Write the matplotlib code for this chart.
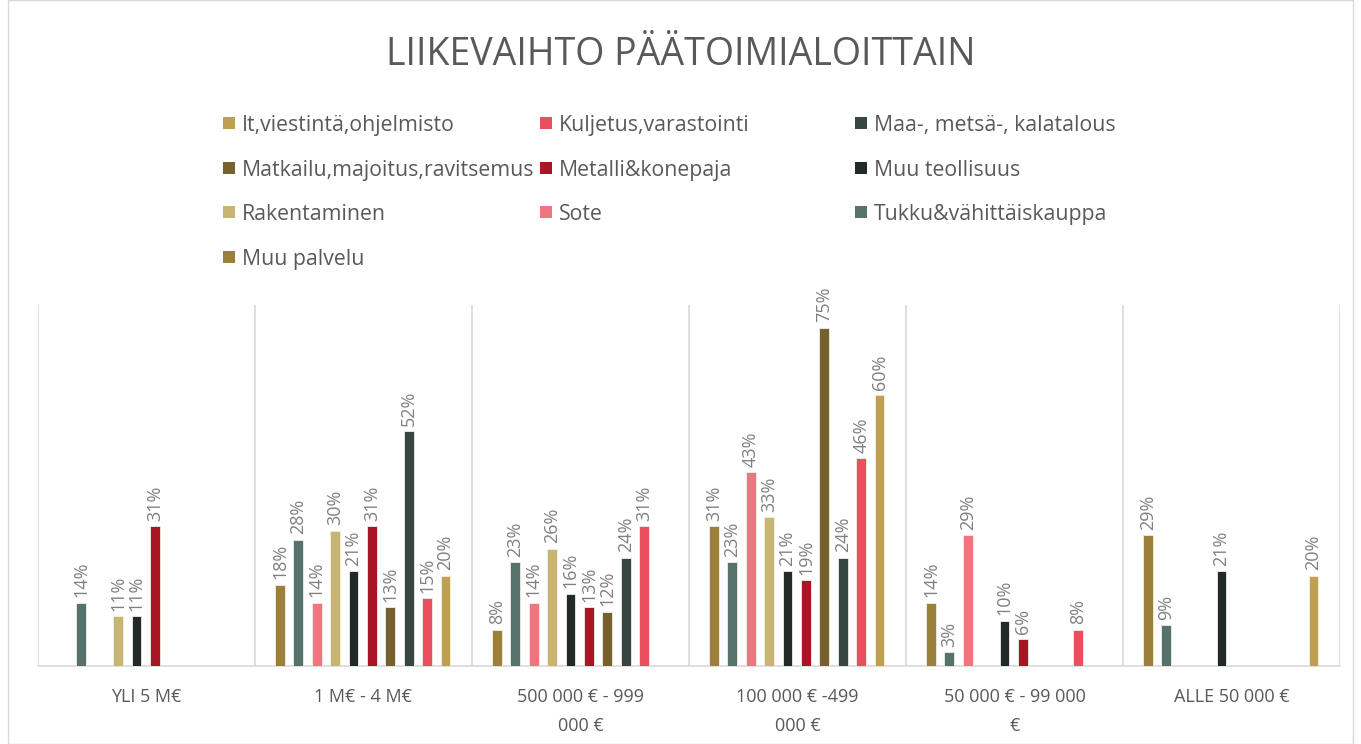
import numpy as np
import matplotlib
matplotlib.use('Agg')
import matplotlib.pyplot as plt

plt.rcParams['font.family'] = ['Open Sans', 'DejaVu Sans']

categories = ['YLI 5 M€', '1 M€ - 4 M€', '500 000 € - 999\n000 €',
              '100 000 € -499\n000 €', '50 000 € - 99 000\n€', 'ALLE 50 000 €']

colors = {'It,viestintä,ohjelmisto': '#BF9F50',
          'Kuljetus,varastointi': '#E85060',
          'Maa-, metsä-, kalatalous': '#374643',
          'Matkailu,majoitus,ravitsemus': '#75602E',
          'Metalli&konepaja': '#A81525',
          'Muu teollisuus': '#212A28',
          'Rakentaminen': '#C9B572',
          'Sote': '#EF7580',
          'Tukku&vähittäiskauppa': '#55726C',
          'Muu palvelu': '#9A803A'}
# legend, row by row
legend_names = ['It,viestintä,ohjelmisto', 'Kuljetus,varastointi', 'Maa-, metsä-, kalatalous',
                'Matkailu,majoitus,ravitsemus', 'Metalli&konepaja', 'Muu teollisuus',
                'Rakentaminen', 'Sote', 'Tukku&vähittäiskauppa', 'Muu palvelu']

nan = np.nan
# values in %, one list per series (order of categories)
muu_palvelu = [nan, 18, 8, 31, 14, 29]
tukku = [14, 28, 23, 23, 3, 9]
sote = [nan, 14, 14, 43, 29, nan]
rakentaminen = [11, 30, 26, 33, nan, nan]
muu_teollisuus = [11, 21, 16, 21, 10, 21]
metalli = [31, 31, 13, 19, 6, nan]
matkailu = [nan, 13, 12, 75, nan, nan]
maa = [nan, 52, 24, 24, nan, nan]
kuljetus = [nan, 15, 31, 46, 8, nan]
it = [nan, 20, nan, 60, nan, 20]

# drawing order within each group
series = [('Muu palvelu', muu_palvelu), ('Tukku&vähittäiskauppa', tukku), ('Sote', sote),
          ('Rakentaminen', rakentaminen), ('Muu teollisuus', muu_teollisuus),
          ('Metalli&konepaja', metalli), ('Matkailu,majoitus,ravitsemus', matkailu),
          ('Maa-, metsä-, kalatalous', maa), ('Kuljetus,varastointi', kuljetus),
          ('It,viestintä,ohjelmisto', it)]

W, H = 1361, 744
fig = plt.figure(figsize=(W/100, H/100), dpi=100)
ax = fig.add_axes([38/W, 1-666/H, (1340-38)/W, (666-305)/H])

x = np.arange(len(categories))
slot = 0.0848
width = 0.045
for i, (name, vals) in enumerate(series):
    pos = x - 0.5 + 0.115 + i*slot
    v = np.array(vals, dtype=float)
    ax.bar(pos, v, width=width, color=colors[name], edgecolor='#F2EEE6', linewidth=0.6, zorder=3)
    for px, val in zip(pos, v):
        if not np.isnan(val):
            ax.text(px, val + 1.2, '%d%%' % val, rotation=90, ha='center', va='bottom',
                    fontsize=13, color='#808080')

ax.set_xlim(-0.5, len(categories) - 0.5)
ax.set_ylim(0, 80)
ax.set_yticks([])
ax.set_xticks(x)
ax.set_xticklabels(categories, fontsize=13, color='#595959', linespacing=1.75)
ax.tick_params(axis='x', length=0, pad=16)
for b in np.arange(-0.5, len(categories), 1.0):
    ax.axvline(b, color='#D9D9D9', lw=1.2, zorder=1)
for s in ['top', 'left', 'right']:
    ax.spines[s].set_visible(False)
ax.spines['bottom'].set_color('#D9D9D9')
ax.spines['bottom'].set_linewidth(1.2)

fig.text(0.5, 1-55/H, 'LIIKEVAIHTO PÄÄTOIMIALOITTAIN', ha='center', va='center',
         fontsize=27, color='#595959')

# legend drawn by hand: 3 columns, rows fill left to right
col_x = [223, 540, 855]
row_y = [123, 168, 212, 257]
for k, name in enumerate(legend_names):
    cx = col_x[k % 3]
    cy = row_y[k // 3]
    fig.patches.append(plt.Rectangle((cx/W, 1-(cy+6)/H), 12/W, 12/H, transform=fig.transFigure,
                                     facecolor=colors[name], edgecolor='none'))
    fig.text((cx+19)/W, 1-cy/H, name, ha='left', va='center_baseline', fontsize=15.3,
             color='#595959')

fig.patches.append(plt.Rectangle((8/W, 0), 1-16/W, 1, transform=fig.transFigure,
                                 fill=False, edgecolor='#D9D9D9', lw=1))

fig.savefig('out.png', dpi=100)
